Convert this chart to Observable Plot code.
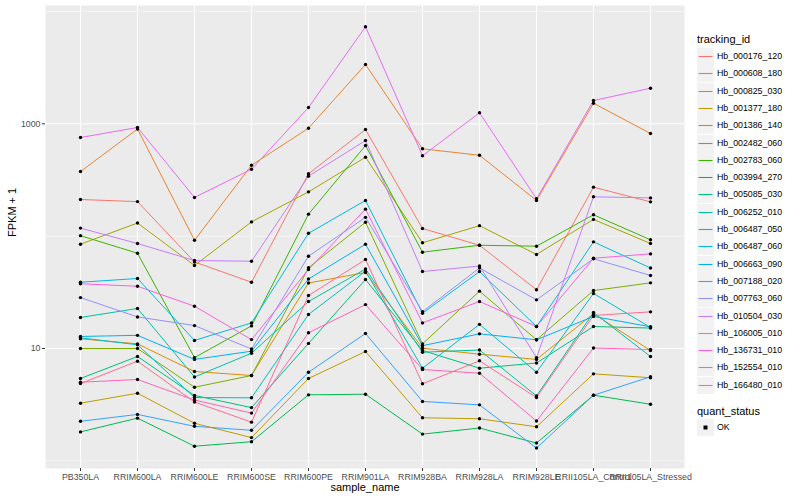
<!DOCTYPE html>
<html>
<head>
<meta charset="utf-8">
<script src="https://cdn.jsdelivr.net/npm/d3@7"></script>
<script src="https://cdn.jsdelivr.net/npm/@observablehq/plot@0.6"></script>
<style>
  body { margin: 0; background: #fff; font-family: "Liberation Sans", Arial, sans-serif; }
  #wrap { position: relative; width: 800px; height: 500px; }
  #chart { position: absolute; left: 0; top: 0; }
  .lg { position: absolute; font-family: "Liberation Sans", Arial, sans-serif; color: #000; white-space: nowrap; }
  .lgTitle { font-size: 11px; }
  .lgLabel { font-size: 8.8px; }
  .key { position: absolute; width: 17px; height: 17px; }
</style>
</head>
<body>
<div id="wrap"><div id="chart"></div></div>
<script>
const samples = ["PB350LA","RRIM600LA","RRIM600LE","RRIM600SE","RRIM600PE","RRIM901LA","RRIM928BA","RRIM928LA","RRIM928LE","RRII105LA_Control","RRII105LA_Stressed"];

const trackingIds = ["Hb_000176_120","Hb_000608_180","Hb_000825_030","Hb_001377_180","Hb_001386_140","Hb_002482_060","Hb_002783_060","Hb_003994_270","Hb_005085_030","Hb_006252_010","Hb_006487_050","Hb_006487_060","Hb_006663_090","Hb_007188_020","Hb_007763_060","Hb_010504_030","Hb_106005_010","Hb_136731_010","Hb_152554_010","Hb_166480_010"];

const seriesColors = ["#F8766D","#EA8331","#D89000","#C09B00","#A3A500","#7CAE00","#39B600","#00BB4E","#00BF7D","#00C1A3","#00BFC4","#00BAE0","#00B0F6","#35A2FF","#9590FF","#C77CFF","#E76BF3","#FA62DB","#FF62BC","#FF6C91"];

// FPKM + 1 per sample (same order as samples)
const Hb_000176_120 = [212, 203, 58.9, 38.9, 359, 889, 117, 83, 33.3, 273, 202];
const Hb_000608_180 = [376, 899, 92, 428, 914, 3373, 599, 525, 208, 1525, 820];
const Hb_000825_030 = [12.2, 11.0, 6.24, 5.75, 38.3, 47.5, 10.06, 8.9, 8.0, 20.4, 9.6];
const Hb_001377_180 = [3.26, 4.00, 2.16, 1.61, 5.41, 9.4, 2.42, 2.37, 2.01, 5.95, 5.49];
const Hb_001386_140 = [84.8, 131, 54.8, 134, 248, 504, 87.3, 124, 68.7, 141, 86];
const Hb_002482_060 = [10, 10, 4.52, 5.75, 52.3, 133, 11.0, 32.4, 11.97, 32.8, 38.4];
const Hb_002783_060 = [101, 70.5, 8.3, 15.9, 157, 641, 72, 83, 81.4, 155, 92.8];
const Hb_003994_270 = [1.81, 2.40, 1.35, 1.48, 3.87, 3.92, 1.73, 1.96, 1.44, 3.84, 3.19];
const Hb_005085_030 = [5.41, 8.49, 3.82, 2.98, 11.1, 41.1, 9.6, 6.68, 7.43, 15.7, 15.2];
const Hb_006252_010 = [18.9, 22.7, 5.58, 9.08, 26.2, 51, 9.27, 9.7, 3.78, 20.9, 8.49];
const Hb_006487_050 = [12.45, 10.8, 3.66, 3.64, 20.1, 48.8, 6.68, 16.4, 6.15, 30.9, 15.4];
const Hb_006487_060 = [38.9, 42, 11.8, 16.9, 106, 208, 20.6, 48.4, 15.7, 89, 52.1];
const Hb_006663_090 = [12.8, 13.1, 8.0, 9.46, 41.6, 84.8, 10.6, 13.5, 11.95, 19.3, 15.6];
const Hb_007188_020 = [2.25, 2.59, 2.03, 1.87, 6.15, 13.6, 3.38, 3.15, 1.30, 3.84, 5.60];
const Hb_007763_060 = [28.4, 19.1, 16.0, 9.9, 66.3, 147, 21.3, 52.1, 27.1, 62.9, 44.7];
const Hb_010504_030 = [118, 86, 60.7, 59.8, 342, 710, 48.4, 54.2, 8.3, 224, 219];
const Hb_106005_010 = [755, 927, 221, 394, 1397, 7300, 519, 1253, 215, 1611, 2075];
const Hb_136731_010 = [37.7, 35.8, 23.8, 12.0, 50.5, 174, 16.9, 26.2, 15.7, 63.6, 69.6];
const Hb_152554_010 = [5.01, 5.30, 3.48, 2.66, 13.8, 24.6, 6.50, 6.03, 2.26, 10.1, 9.8];
const Hb_166480_010 = [4.88, 7.71, 3.34, 2.21, 29.6, 62, 4.85, 7.77, 3.66, 19.7, 21.2];

const seriesValues = [Hb_000176_120, Hb_000608_180, Hb_000825_030, Hb_001377_180, Hb_001386_140, Hb_002482_060, Hb_002783_060, Hb_003994_270, Hb_005085_030, Hb_006252_010, Hb_006487_050, Hb_006487_060, Hb_006663_090, Hb_007188_020, Hb_007763_060, Hb_010504_030, Hb_106005_010, Hb_136731_010, Hb_152554_010, Hb_166480_010];

const yMajor = [10, 1000];
const yMinor = [1, 100, 10000];
const quantStatus = ["OK"];

const rows = [];
trackingIds.forEach((id, i) => {
  samples.forEach((s, j) => rows.push({tracking_id: id, sample_name: s, value: seriesValues[i][j], quant_status: "OK"}));
});

const plot = Plot.plot({
  width: 800,
  height: 500,
  marginLeft: 45,
  marginRight: 116,
  marginTop: 5,
  marginBottom: 32,
  style: {fontFamily: '"Liberation Sans", Arial, sans-serif', fontSize: "8.8px", color: "#4D4D4D", background: "#fff"},
  x: {type: "point", domain: samples, padding: 0.6},
  y: {type: "log", domain: [0.855, 11300]},
  color: {domain: trackingIds, range: seriesColors},
  marks: [
    Plot.frame({fill: "#EBEBEB", stroke: null}),
    Plot.ruleY(yMinor, {stroke: "#fff", strokeWidth: 0.55}),
    Plot.ruleY(yMajor, {stroke: "#fff", strokeWidth: 1.1}),
    Plot.ruleX(samples, {stroke: "#fff", strokeWidth: 1.1}),
    Plot.axisY({ticks: yMajor, tickFormat: d => String(d), tickSize: 3, tickPadding: 2, label: null, stroke: "#333"}),
    Plot.axisX({tickSize: 3, tickPadding: 2, label: null, stroke: "#333"}),
    Plot.text(["sample_name"], {frameAnchor: "bottom", dy: 22, fontSize: 11, fill: "#000"}),
    Plot.text(["FPKM + 1"], {frameAnchor: "left", dx: -33, rotate: -90, fontSize: 11, fill: "#000"}),
    Plot.line(rows, {x: "sample_name", y: "value", z: "tracking_id", stroke: "tracking_id", strokeWidth: 1}),
    Plot.dot(rows, {x: "sample_name", y: "value", fill: "#000", r: 1.7, stroke: null})
  ]
});
document.getElementById("chart").appendChild(plot);

// Legend (HTML, over the right margin of the SVG)
const wrap = document.getElementById("wrap");
function add(cls, text, left, top) {
  const d = document.createElement("div");
  d.className = cls;
  if (text != null) d.textContent = text;
  d.style.left = left + "px";
  d.style.top = top + "px";
  wrap.appendChild(d);
  return d;
}
const NS = "http://www.w3.org/2000/svg";
function keyBox(left, top) {
  const k = add("key", null, left, top);
  const s = document.createElementNS(NS, "svg");
  s.setAttribute("width", 17); s.setAttribute("height", 17);
  const r = document.createElementNS(NS, "rect");
  r.setAttribute("width", 17); r.setAttribute("height", 17); r.setAttribute("fill", "#F2F2F2");
  s.appendChild(r);
  k.appendChild(s);
  return s;
}
add("lg lgTitle", "tracking_id", 697, 33);
const keyTop = 48, keyStep = 17.3;
trackingIds.forEach((id, i) => {
  const top = Math.round(keyTop + i * keyStep);
  const s = keyBox(697, top);
  const l = document.createElementNS(NS, "line");
  l.setAttribute("x1", 1.5); l.setAttribute("x2", 15.5);
  l.setAttribute("y1", 8.5); l.setAttribute("y2", 8.5);
  l.setAttribute("stroke", seriesColors[i]); l.setAttribute("stroke-width", 1.1);
  s.appendChild(l);
  add("lg lgLabel", id, 717, top + 3);
});
add("lg lgTitle", "quant_status", 697, 405);
quantStatus.forEach((q, i) => {
  const top = Math.round(419 + i * keyStep);
  const s = keyBox(697, top);
  const r = document.createElementNS(NS, "rect");
  r.setAttribute("x", 6.5); r.setAttribute("y", 6.5); r.setAttribute("width", 4); r.setAttribute("height", 4); r.setAttribute("fill", "#000");
  s.appendChild(r);
  add("lg lgLabel", q, 717, top + 3);
});
</script>
</body>
</html>
